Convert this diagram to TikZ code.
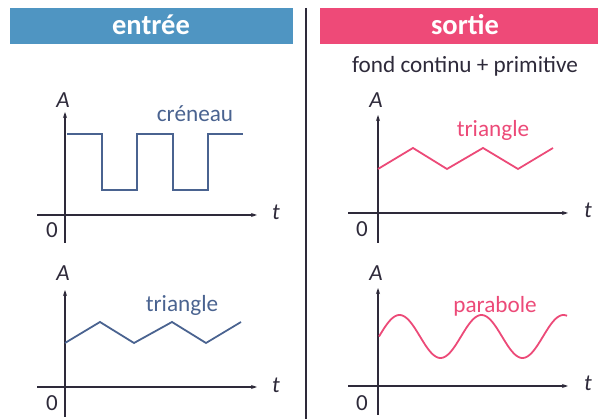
\documentclass[tikz,border=0pt]{standalone}
\usepackage{fontspec}
\setmainfont{Carlito}
\usetikzlibrary{arrows.meta}
\definecolor{hblue}{HTML}{4F95C2}
\definecolor{hpink}{HTML}{EE4A78}
\definecolor{lblue}{HTML}{4A6390}
\definecolor{lpink}{HTML}{EC4A78}
\definecolor{axc}{HTML}{2E2A3A}
\tikzset{
  axis/.style={draw=axc, line width=1.1pt, -{Stealth[length=6pt,width=4pt]}},
  yaxis/.style={draw=axc, line width=1.1pt, -{Stealth[length=6pt,width=4pt]}},
  sigb/.style={draw=lblue, line width=1.8pt, line join=miter},
  sigp/.style={draw=lpink, line width=1.8pt, line join=miter},
  ax/.style={font=\fontsize{23}{23}\selectfont\itshape, text=axc, anchor=base, inner sep=0pt},
  zero/.style={font=\fontsize{23}{23}\selectfont, text=axc, anchor=base, inner sep=0pt},
  lbl/.style={font=\fontsize{23.2}{24}\selectfont, anchor=base, inner sep=0pt},
  head/.style={font=\fontsize{28.5}{29}\selectfont\bfseries, text=white, anchor=base, inner sep=0pt}
}
\begin{document}
\begin{tikzpicture}[x=1pt,y=-1pt]
\useasboundingbox (0,0) rectangle (600,419);
% headers
\fill[hblue] (10,8) rectangle (293,44);
\fill[hpink] (320,8) rectangle (598,44);
\node[head] (hin) at (151,35) {entrée};
\node[head] (hout) at (465,35) {sortie};
\draw[axc, line width=1.5pt] (306,8) -- (306,419);
\node[lbl, text=axc] (fond) at (465,73) {fond continu + primitive};

% ---- top left: creneau
\coordinate (tlyb) at (65,243); \coordinate (tlyt) at (65,112);
\coordinate (tlxl) at (37,215); \coordinate (tlxr) at (257,215);
\draw[yaxis] (tlyb) -- (tlyt);
\draw[axis] (tlxl) -- (tlxr);
\node[ax] (tlA) at (63,108) {A};
\node[ax] (tlt) at (276,220) {t};
\node[zero] (tl0) at (52,238) {0};
\draw[sigb] (67,134) -- (102,134) -- (102,190) -- (137,190) -- (137,134) -- (173,134) -- (173,190) -- (208,190) -- (208,134) -- (243,134);
\node[lbl, text=lblue] (cren) at (195,122) {créneau};

% ---- top right: triangle
\coordinate (tryb) at (378,243); \coordinate (tryt) at (378,115);
\coordinate (trxl) at (348,213); \coordinate (trxr) at (568,213);
\draw[yaxis] (tryb) -- (tryt);
\draw[axis] (trxl) -- (trxr);
\node[ax] (trA) at (376,108) {A};
\node[ax] (trt) at (588,218) {t};
\node[zero] (tr0) at (362,237) {0};
\draw[sigp] (378,169) -- (413,148) -- (447,169) -- (483,148) -- (518,169) -- (553,148);
\node[lbl, text=lpink] (trtri) at (493,137) {triangle};

% ---- bottom left: triangle
\coordinate (blyb) at (65,417); \coordinate (blyt) at (65,290);
\coordinate (blxl) at (37,387); \coordinate (blxr) at (257,387);
\draw[yaxis] (blyb) -- (blyt);
\draw[axis] (blxl) -- (blxr);
\node[ax] (blA) at (63,281) {A};
\node[ax] (blt) at (276,393) {t};
\node[zero] (bl0) at (52,411) {0};
\draw[sigb] (65,343) -- (100,322) -- (134,343) -- (172,322) -- (206,343) -- (241,322);
\node[lbl, text=lblue] (bltri) at (182,312) {triangle};

% ---- bottom right: parabole
\coordinate (bryb) at (378,415); \coordinate (bryt) at (378,288);
\coordinate (brxl) at (348,386); \coordinate (brxr) at (568,386);
\draw[yaxis] (bryb) -- (bryt);
\draw[axis] (brxl) -- (brxr);
\node[ax] (brA) at (376,281) {A};
\node[ax] (brt) at (588,391) {t};
\node[zero] (br0) at (362,411) {0};
\draw[sigp, domain=0:188, samples=120, smooth, variable=\u] plot ({379+\u}, {336.5-21.5*sin(4.3902*\u)});
\node[lbl, text=lpink] (brpar) at (495,313) {parabole};
\end{tikzpicture}
\end{document}
